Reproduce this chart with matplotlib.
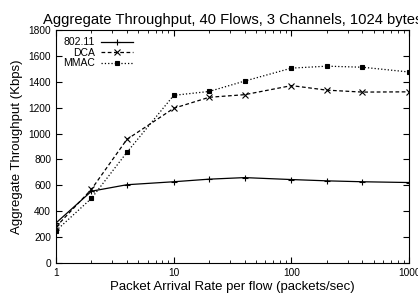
import numpy as np
import matplotlib.pyplot as plt
from matplotlib.ticker import LogLocator, NullFormatter

plt.rcParams['font.family'] = ['Liberation Sans', 'DejaVu Sans']

rate = [1, 2, 4, 10, 20, 40, 100, 200, 400, 1000]
thr_80211 = [310, 555, 605, 628, 648, 660, 645, 635, 628, 622]
thr_dca = [280, 570, 955, 1195, 1280, 1300, 1370, 1335, 1320, 1322]
thr_mmac = [250, 500, 855, 1295, 1325, 1405, 1505, 1520, 1512, 1475]

fig = plt.figure(figsize=(4.18, 2.99), dpi=100)
ax = fig.add_axes([0.134, 0.12, 0.845, 0.78])

ax.plot(rate, thr_80211, 'k-', lw=0.9, marker='+', ms=4.5, mew=0.8, label='802.11')
ax.plot(rate, thr_dca, 'k--', lw=0.9, marker='x', ms=4, mew=0.8, label='DCA', dashes=(3, 2))
ax.plot(rate, thr_mmac, 'k:', lw=0.9, marker='s', ms=3, mew=0.8, mfc='black', label='MMAC')

ax.set_xscale('log')
ax.set_xlim(1, 1000)
ax.set_ylim(0, 1800)
ax.set_yticks(np.arange(0, 1801, 200))
ax.set_xticks([1, 10, 100, 1000])
ax.set_xticklabels(['1', '10', '100', '1000'])
ax.xaxis.set_minor_locator(LogLocator(base=10, subs=np.arange(2, 10)))
ax.xaxis.set_minor_formatter(NullFormatter())

ax.tick_params(which='both', direction='in', top=True, right=True, labelsize=7.3)
ax.tick_params(which='major', length=4, width=0.8)
ax.tick_params(which='minor', length=2, width=0.6)
for s in ax.spines.values():
    s.set_linewidth(0.8)

ax.set_xlabel('Packet Arrival Rate per flow (packets/sec)', fontsize=9.5, labelpad=2)
ax.set_ylabel('Aggregate Throughput (Kbps)', fontsize=9.5, labelpad=4)
ax.set_title('Aggregate Throughput, 40 Flows, 3 Channels, 1024 bytes', fontsize=10.6, pad=4)

leg = ax.legend(loc='upper left', frameon=False, markerfirst=False, fontsize=7.5,
                handlelength=3, handletextpad=0.6, labelspacing=0.05,
                borderaxespad=0.3)

fig.savefig('out.png', dpi=100)
